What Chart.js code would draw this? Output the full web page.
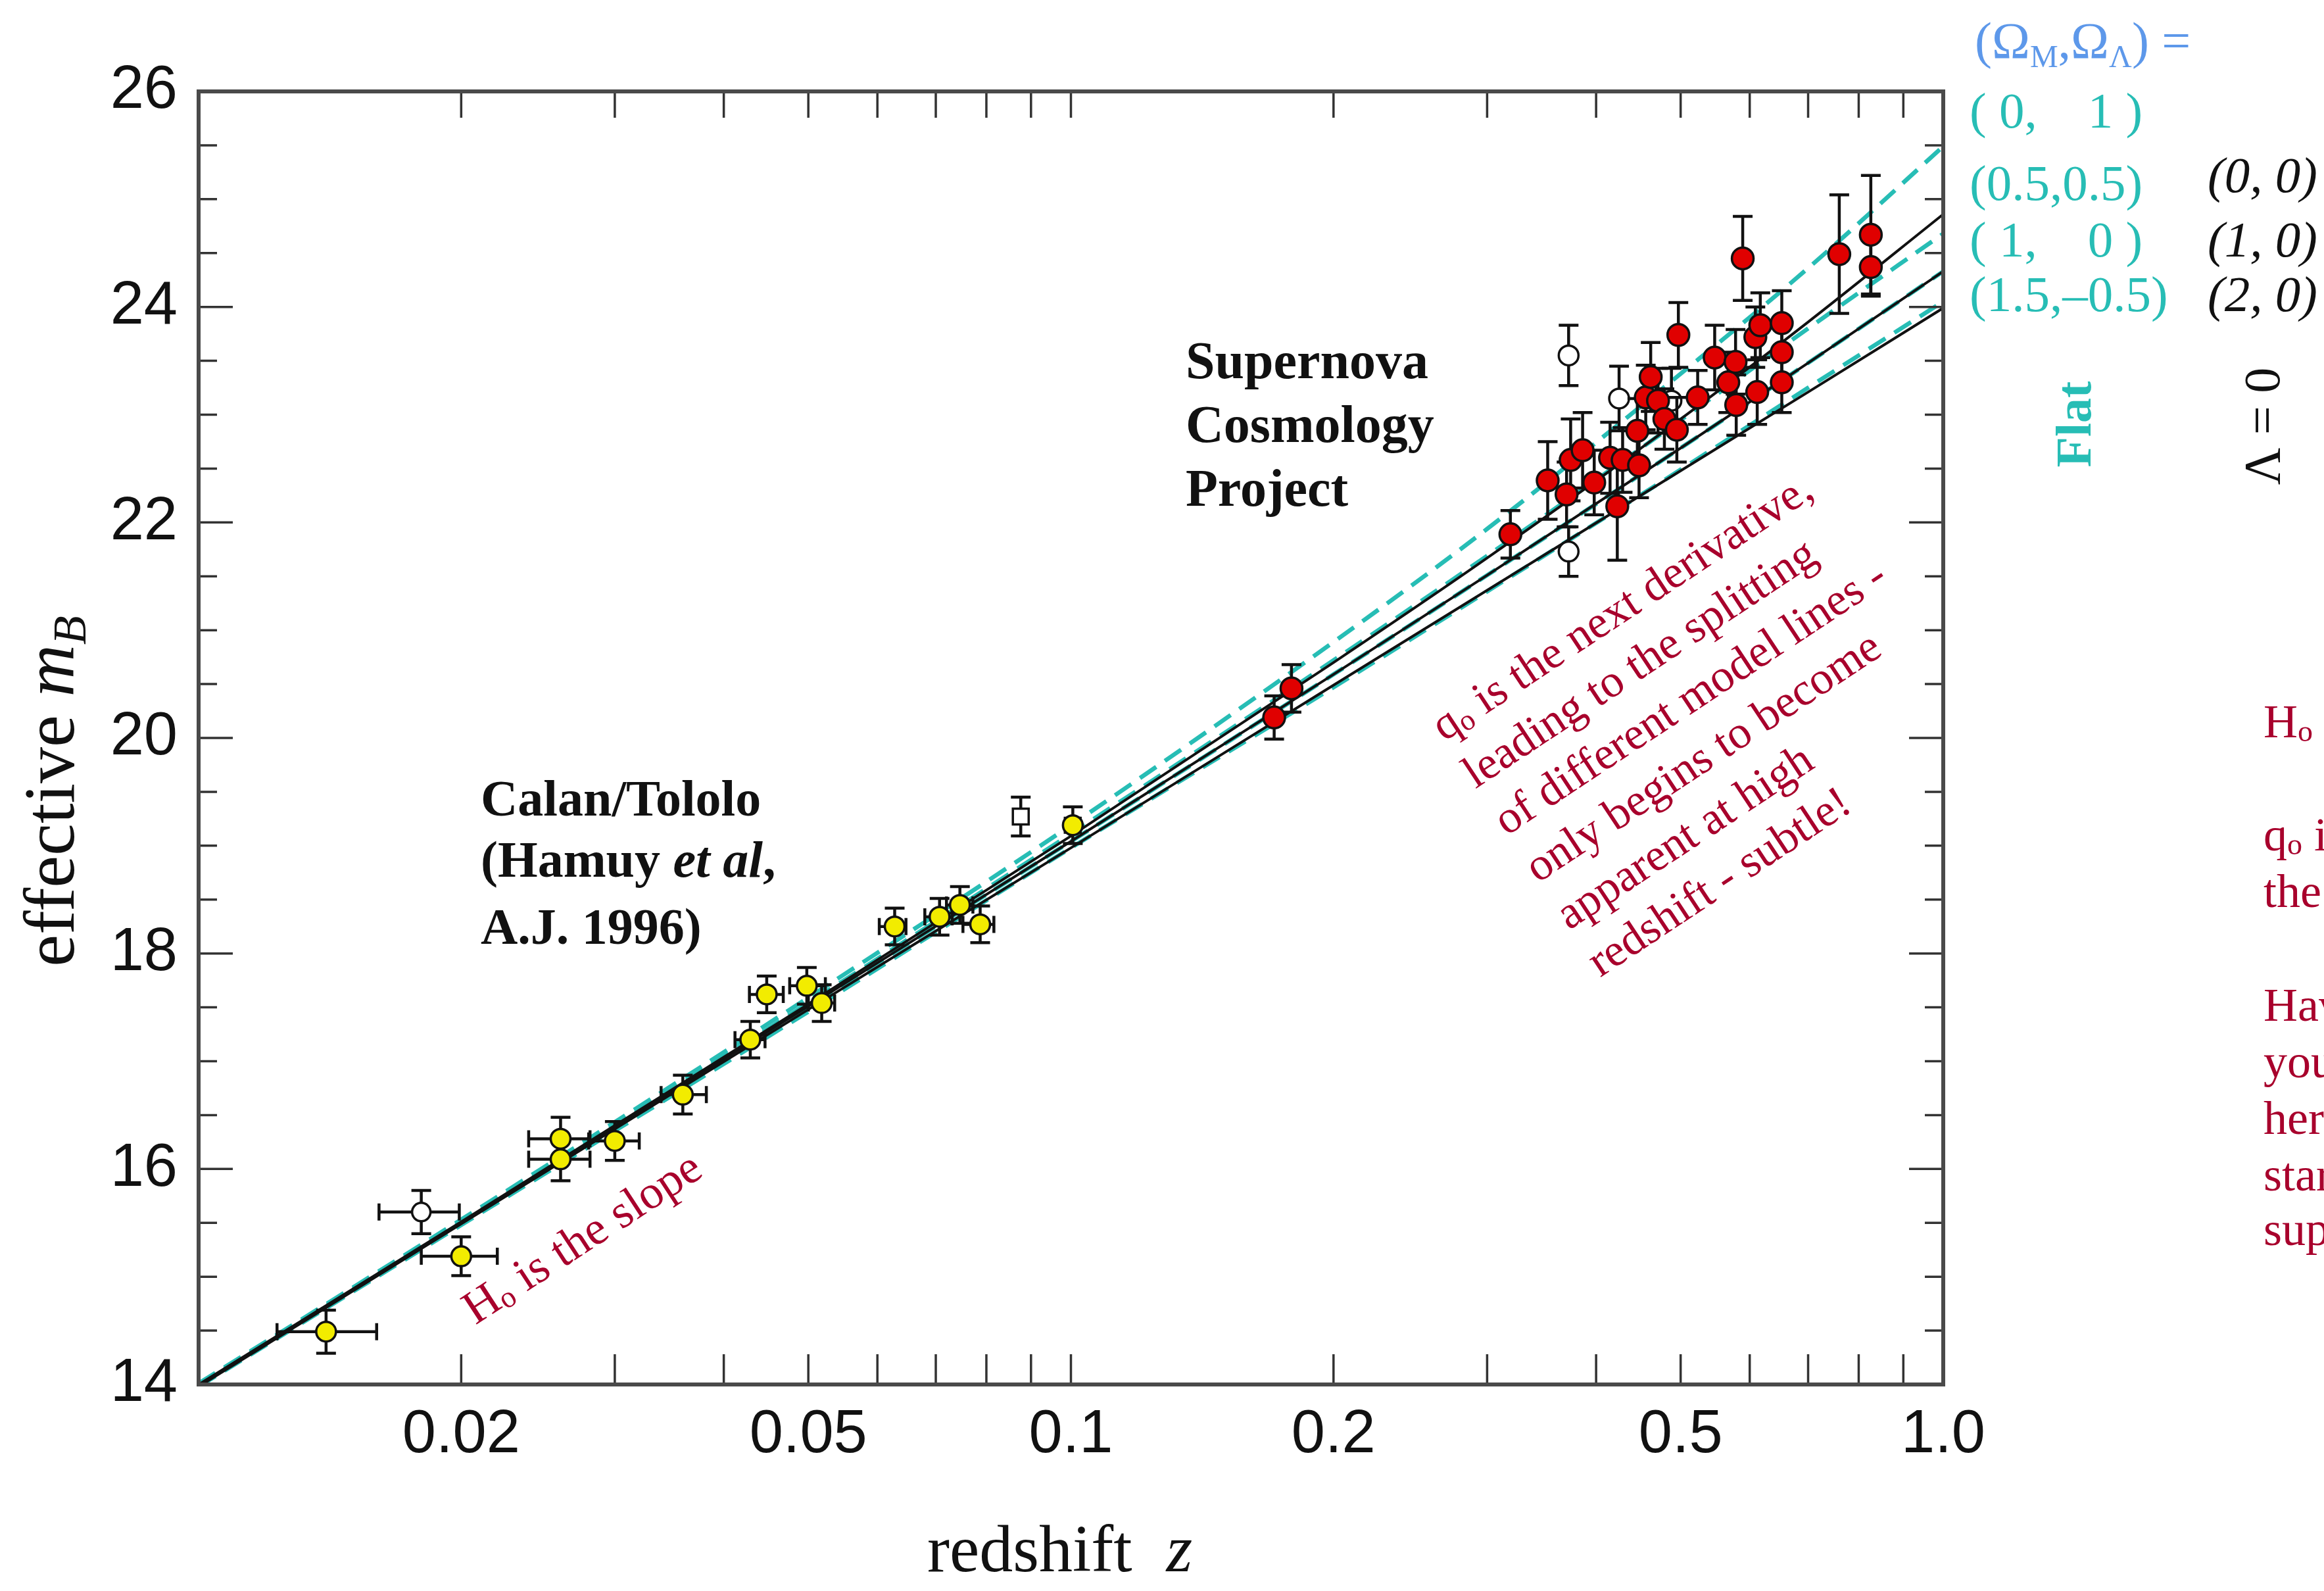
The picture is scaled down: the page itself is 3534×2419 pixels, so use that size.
<!DOCTYPE html>
<html>
<head>
<meta charset="utf-8">
<script src="https://cdn.jsdelivr.net/npm/chart.js@4.4.1/dist/chart.umd.min.js"></script>
<style>
  html, body { margin: 0; padding: 0; background: #fff; }
  canvas { display: block; }
</style>
</head>
<body>
<canvas id="hubbleChart" width="3534" height="2419" style="width:3534px;height:2419px"></canvas>
<script>
var ctx = document.getElementById("hubbleChart").getContext('2d');

// model curves at these redshifts
var modelZ      = [0.01, 0.02, 0.05, 0.1, 0.2, 0.3, 0.5, 0.7, 1.0];
var flat_0_1    = [14.01, 15.53, 17.59, 19.19, 20.89, 21.94, 23.38, 24.36, 25.49];
var flat_05_05  = [14.00, 15.51, 17.54, 19.11, 20.72, 21.69, 22.95, 23.80, 24.68];
var flat_1_0    = [13.99, 15.50, 17.51, 19.04, 20.59, 21.51, 22.69, 23.48, 24.33];
var flat_15_m05 = [13.98, 15.48, 17.46, 18.98, 20.47, 21.36, 22.49, 23.25, 24.05];
var open_0_0    = [14.00, 15.51, 17.53, 19.09, 20.70, 21.67, 22.96, 23.86, 24.86];
var closed_2_0  = [13.98, 15.49, 17.48, 18.98, 20.49, 21.37, 22.48, 23.21, 23.99];

// Calan/Tololo supernovae
var ctZ   = [0.0140, 0.0200, 0.0260, 0.0260, 0.0300, 0.0359, 0.0429, 0.0448, 0.0498, 0.0518, 0.0628, 0.0707, 0.0746, 0.0787, 0.1005];
var ctM   = [14.49, 15.19, 16.28, 16.09, 16.26, 16.69, 17.20, 17.62, 17.70, 17.54, 18.25, 18.34, 18.45, 18.27, 19.19];
var ctErr = [0.20, 0.18, 0.20, 0.20, 0.18, 0.18, 0.17, 0.17, 0.17, 0.17, 0.17, 0.17, 0.17, 0.17, 0.17];
var ctZlo = [0.0123, 0.0180, 0.0239, 0.0239, 0.0280, 0.0339, 0.0412, 0.0428, 0.0476, 0.0500, 0.0603, 0.0680, 0.0720, 0.0752, 0.0985];
var ctZhi = [0.0160, 0.0220, 0.0281, 0.0281, 0.0320, 0.0382, 0.0446, 0.0468, 0.0523, 0.0536, 0.0647, 0.0731, 0.0772, 0.0816, 0.1025];

var ctOpenZ = [0.0180], ctOpenM = [15.60], ctOpenErr = [0.20], ctOpenZlo = [0.0161], ctOpenZhi = [0.0199];
var ctSquareZ = [0.0876], ctSquareM = [19.27], ctSquareErr = [0.18], ctSquareZlo = [0.0862], ctSquareZhi = [0.0890];

// Supernova Cosmology Project
var redZ   = [0.171, 0.179, 0.319, 0.352, 0.370, 0.374, 0.386, 0.398, 0.415, 0.423, 0.429, 0.446, 0.448, 0.456, 0.462, 0.471, 0.479,
              0.495, 0.497, 0.523, 0.547, 0.567, 0.578, 0.579, 0.589, 0.609, 0.612, 0.617, 0.653, 0.653, 0.653, 0.760, 0.826, 0.826];
var redM   = [20.19, 20.46, 21.89, 22.39, 22.26, 22.58, 22.67, 22.37, 22.60, 22.15, 22.58, 22.85, 22.53, 23.16, 23.35, 23.13, 22.96,
              22.86, 23.74, 23.16, 23.53, 23.30, 23.49, 23.09, 24.45, 23.72, 23.21, 23.83, 23.85, 23.58, 23.30, 24.49, 24.67, 24.37];
var redErr = [0.20, 0.22, 0.22, 0.36, 0.30, 0.38, 0.35, 0.30, 0.33, 0.50, 0.30, 0.30, 0.30, 0.30, 0.32, 0.30, 0.28,
              0.30, 0.30, 0.25, 0.30, 0.28, 0.30, 0.28, 0.39, 0.28, 0.30, 0.30, 0.30, 0.28, 0.28, 0.55, 0.55, 0.27];

var scpOpenZ = [0.372, 0.372, 0.425, 0.488];
var scpOpenM = [23.55, 21.73, 23.15, 23.13];
var scpOpenErr = [0.28, 0.23, 0.30, 0.30];

// axis ticks
var xTickValues = [0.01, 0.02, 0.03, 0.04, 0.05, 0.06, 0.07, 0.08, 0.09, 0.1, 0.2, 0.3, 0.4, 0.5, 0.6, 0.7, 0.8, 0.9, 1.0];
var xLabelValues = [0.02, 0.05, 0.1, 0.2, 0.5, 1.0];
var xLabelText = ['0.02', '0.05', '0.1', '0.2', '0.5', '1.0'];
var yMajorTicks = [14, 16, 18, 20, 22, 24, 26];
var yMinorTicks = [14.5, 15, 15.5, 16.5, 17, 17.5, 18.5, 19, 19.5, 20.5, 21, 21.5, 22.5, 23, 23.5, 24.5, 25, 25.5];

var cyan = '#27bdb5';
var crimson = '#a8002c';
var serif = 'Liberation Serif';

function pts(xs, ys) {
  var out = [];
  for (var i = 0; i < xs.length; i++) out.push({x: xs[i], y: ys[i]});
  return out;
}

function modelLine(label, values, color, dash, width, order) {
  return {
    type: 'line', label: label, data: pts(modelZ, values),
    borderColor: color, borderWidth: width, borderDash: dash,
    pointRadius: 0, fill: false, cubicInterpolationMode: 'monotone', order: order
  };
}

var errorBars = {
  id: 'errorBars',
  beforeDatasetDraw: function(chart, args) {
    var ds = chart.data.datasets[args.index];
    if (!ds.mErr) return;
    var c = chart.ctx, xs = chart.scales.x, ys = chart.scales.y;
    c.save();
    c.strokeStyle = '#111';
    c.lineWidth = 4.5;
    for (var i = 0; i < ds.data.length; i++) {
      var p = ds.data[i];
      var px = xs.getPixelForValue(p.x), py = ys.getPixelForValue(p.y);
      var t = ys.getPixelForValue(p.y + ds.mErr[i]), b = ys.getPixelForValue(p.y - ds.mErr[i]);
      c.beginPath();
      c.moveTo(px, t); c.lineTo(px, b);
      c.moveTo(px - 15, t); c.lineTo(px + 15, t);
      c.moveTo(px - 15, b); c.lineTo(px + 15, b);
      if (ds.zLo) {
        var l = xs.getPixelForValue(ds.zLo[i]), r = xs.getPixelForValue(ds.zHi[i]);
        c.moveTo(l, py); c.lineTo(r, py);
        c.moveTo(l, py - 13); c.lineTo(l, py + 13);
        c.moveTo(r, py - 13); c.lineTo(r, py + 13);
      }
      c.stroke();
    }
    c.restore();
  }
};

var frame = {
  id: 'frame',
  afterDraw: function(chart) {
    var c = chart.ctx, a = chart.chartArea, xs = chart.scales.x, ys = chart.scales.y;
    c.save();
    c.strokeStyle = '#333';
    c.lineWidth = 3.5;
    c.beginPath();
    xTickValues.forEach(function(v) {
      var px = xs.getPixelForValue(v);
      c.moveTo(px, a.bottom); c.lineTo(px, a.bottom - 46);
      c.moveTo(px, a.top); c.lineTo(px, a.top + 40);
    });
    yMajorTicks.forEach(function(v) {
      var py = ys.getPixelForValue(v);
      c.moveTo(a.left, py); c.lineTo(a.left + 52, py);
      c.moveTo(a.right, py); c.lineTo(a.right - 52, py);
    });
    yMinorTicks.forEach(function(v) {
      var py = ys.getPixelForValue(v);
      c.moveTo(a.left, py); c.lineTo(a.left + 28, py);
      c.moveTo(a.right, py); c.lineTo(a.right - 28, py);
    });
    c.stroke();
    c.lineWidth = 6;
    c.strokeStyle = '#4a4a4a';
    c.strokeRect(a.left, a.top, a.right - a.left, a.bottom - a.top);
    c.restore();
  }
};

// draws a run of text pieces with their own fonts, starting at x,y, rotated by angle degrees
function richText(c, x, y, angle, parts, align) {
  c.save();
  c.translate(x, y);
  c.rotate(angle * Math.PI / 180);
  c.textBaseline = 'alphabetic';
  c.textAlign = 'left';
  var total = 0;
  parts.forEach(function(p) { c.font = p.font; total += c.measureText(p.text).width + (p.gap || 0); });
  var cx = align === 'center' ? -total / 2 : 0;
  parts.forEach(function(p) {
    c.font = p.font;
    c.fillStyle = p.color || '#111';
    c.fillText(p.text, cx, p.dy || 0);
    cx += c.measureText(p.text).width + (p.gap || 0);
  });
  c.restore();
}

function sub0(big, text, size) {
  return [
    {text: big, font: size + 'px ' + serif, color: crimson},
    {text: 'o', font: Math.round(size * 0.64) + 'px ' + serif, color: crimson, dy: 6},
    {text: text, font: size + 'px ' + serif, color: crimson}
  ];
}

function plain(text, size) {
  return [{text: text, font: size + 'px ' + serif, color: crimson}];
}

var notes = {
  id: 'notes',
  afterDraw: function(chart) {
    var c = chart.ctx;
    var bold = 'bold 78px ' + serif;

    // axis titles
    richText(c, 112, 1203, -90, [
      {text: 'effective ', font: '110px ' + serif},
      {text: 'm', font: 'italic 110px ' + serif},
      {text: 'B', font: 'italic 72px ' + serif, dy: 18}
    ], 'center');
    richText(c, 1410, 2389, 0, [
      {text: 'redshift', font: '102px ' + serif, gap: 52},
      {text: 'z', font: 'italic 102px ' + serif}
    ]);

    // data set labels
    richText(c, 731, 1240, 0, [{text: 'Calan/Tololo', font: bold}]);
    richText(c, 731, 1333, 0, [{text: '(Hamuy ', font: bold}, {text: 'et al', font: 'italic ' + bold}, {text: ',', font: bold}]);
    richText(c, 731, 1435, 0, [{text: 'A.J. 1996)', font: bold}]);
    richText(c, 1803, 575, 0, [{text: 'Supernova', font: 'bold 80px ' + serif}]);
    richText(c, 1803, 672, 0, [{text: 'Cosmology', font: 'bold 80px ' + serif}]);
    richText(c, 1803, 769, 0, [{text: 'Project', font: 'bold 80px ' + serif}]);

    // model key
    var blue = '#5d98ea';
    richText(c, 3003, 88, 0, [
      {text: '(\u03A9', font: '78px ' + serif, color: blue},
      {text: 'M', font: '48px ' + serif, color: blue, dy: 14},
      {text: ',', font: '78px ' + serif, color: blue},
      {text: '\u03A9', font: '78px ' + serif, color: blue},
      {text: '\u039B', font: '48px ' + serif, color: blue, dy: 14},
      {text: ') =', font: '78px ' + serif, color: blue}
    ]);
    var keyFont = '77px ' + serif;
    richText(c, 2995, 194, 0, [{text: '( 0,    1 )', font: keyFont, color: cyan}]);
    richText(c, 2995, 304, 0, [{text: '(0.5,0.5)', font: keyFont, color: cyan}]);
    richText(c, 2995, 390, 0, [{text: '( 1,    0 )', font: keyFont, color: cyan}]);
    richText(c, 2995, 473, 0, [{text: '(1.5,\u20130.5)', font: keyFont, color: cyan}]);
    richText(c, 3357, 292, 0, [{text: '(0, 0)', font: 'italic ' + keyFont}]);
    richText(c, 3357, 390, 0, [{text: '(1, 0)', font: 'italic ' + keyFont}]);
    richText(c, 3357, 473, 0, [{text: '(2, 0)', font: 'italic ' + keyFont}]);

    c.save();
    c.textAlign = 'center';
    c.textBaseline = 'middle';
    c.translate(3159, 645);
    c.rotate(-Math.PI / 2);
    c.font = 'bold 76px ' + serif;
    c.fillStyle = cyan;
    c.fillText('Flat', 0, 0);
    c.restore();
    c.save();
    c.textAlign = 'center';
    c.textBaseline = 'middle';
    c.translate(3446, 648);
    c.rotate(-Math.PI / 2);
    c.font = '78px ' + serif;
    c.fillStyle = '#111';
    c.fillText('\u039B = 0', 0, 0);
    c.restore();

    // red comments
    richText(c, 723, 2015, -33.2, sub0('H', ' is the slope', 72));

    var noteLines = [
      sub0('q', ' is the next derivative,', 70),
      plain('leading to the splitting', 70),
      plain('of different model lines -', 70),
      plain('only begins to become', 70),
      plain('apparent at high', 70),
      plain('redshift - subtle!', 70)
    ];
    var ang = -33.5 * Math.PI / 180;
    noteLines.forEach(function(parts, i) {
      var d = i * 86;
      richText(c, 2196 - d * Math.sin(ang), 1128 + d * Math.cos(ang), -33.5, parts);
    });

    var sideLines = [
      [1121, sub0('H', ' is', 72)],
      [1293, sub0('q', ' is', 72)],
      [1379, plain('the', 72)],
      [1552, plain('Have', 72)],
      [1638, plain('you', 72)],
      [1724, plain('here', 72)],
      [1810, plain('start', 72)],
      [1893, plain('super', 72)]
    ];
    sideLines.forEach(function(s) { richText(c, 3442, s[0], 0, s[1]); });
  }
};

var hubbleChart = new Chart(ctx, {
  type: 'scatter',
  data: {
    datasets: [
      modelLine('(0,1) flat', flat_0_1, cyan, [30, 16], 6.5, 30),
      modelLine('(0.5,0.5) flat', flat_05_05, cyan, [30, 16], 6.5, 30),
      modelLine('(1,0) flat', flat_1_0, cyan, [30, 16], 6.5, 30),
      modelLine('(1.5,-0.5) flat', flat_15_m05, cyan, [30, 16], 6.5, 30),
      modelLine('(0,0)', open_0_0, '#111', [], 4, 20),
      modelLine('(1,0)', flat_1_0, '#111', [], 4, 20),
      modelLine('(2,0)', closed_2_0, '#111', [], 4, 20),
      {
        label: 'SCP excluded', data: pts(scpOpenZ, scpOpenM), mErr: scpOpenErr,
        pointRadius: 15, pointBorderWidth: 3.5, pointBackgroundColor: '#fff', pointBorderColor: '#111', order: 5
      },
      {
        label: 'Supernova Cosmology Project', data: pts(redZ, redM), mErr: redErr,
        pointRadius: 16.5, pointBorderWidth: 3.5, pointBackgroundColor: '#e00000', pointBorderColor: '#111', order: 4
      },
      {
        label: 'Calan/Tololo excluded', data: pts(ctOpenZ, ctOpenM), mErr: ctOpenErr, zLo: ctOpenZlo, zHi: ctOpenZhi,
        pointRadius: 14, pointBorderWidth: 3.5, pointBackgroundColor: '#fff', pointBorderColor: '#111', order: 3
      },
      {
        label: 'Calan/Tololo square', data: pts(ctSquareZ, ctSquareM), mErr: ctSquareErr, zLo: ctSquareZlo, zHi: ctSquareZhi,
        pointStyle: 'rect', pointRadius: 17, pointBorderWidth: 3.5, pointBackgroundColor: '#fff', pointBorderColor: '#111', order: 3
      },
      {
        label: 'Calan/Tololo', data: pts(ctZ, ctM), mErr: ctErr, zLo: ctZlo, zHi: ctZhi,
        pointRadius: 15, pointBorderWidth: 3.5, pointBackgroundColor: '#f2ec00', pointBorderColor: '#111', order: 2
      }
    ]
  },
  options: {
    responsive: false,
    animation: false,
    devicePixelRatio: 1,
    layout: { padding: { left: 0, right: 579, top: 139, bottom: 0 } },
    plugins: { legend: { display: false }, tooltip: { enabled: false } },
    scales: {
      x: {
        type: 'logarithmic', min: 0.01, max: 1.0,
        afterBuildTicks: function(scale) { scale.ticks = xLabelValues.map(function(v) { return {value: v}; }); },
        afterFit: function(scale) { scale.height = 314; },
        grid: { display: false, drawTicks: false },
        border: { display: false },
        ticks: {
          autoSkip: false, maxRotation: 0, minRotation: 0, padding: 22, color: '#111',
          font: { family: 'Liberation Sans', size: 92 },
          callback: function(v) { var i = xLabelValues.indexOf(v); return i < 0 ? '' : xLabelText[i]; }
        }
      },
      y: {
        min: 14, max: 26,
        afterBuildTicks: function(scale) { scale.ticks = yMajorTicks.map(function(v) { return {value: v}; }); },
        afterFit: function(scale) { scale.width = 302; },
        grid: { display: false, drawTicks: false },
        border: { display: false },
        ticks: { padding: 32, color: '#111', font: { family: 'Liberation Sans', size: 92 } }
      }
    }
  },
  plugins: [errorBars, frame, notes]
});
</script>
</body>
</html>
